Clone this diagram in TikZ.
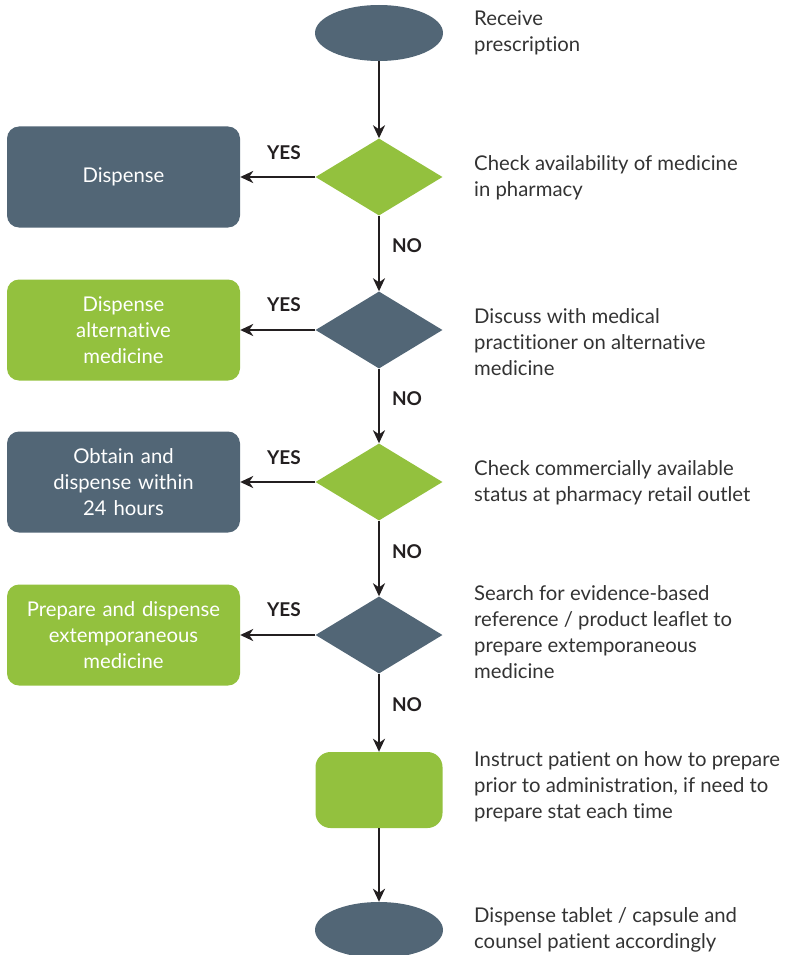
\documentclass[tikz,border=0pt]{standalone}
\usepackage{fontspec}
\setmainfont{Lato}[Ligatures=NoCommon]
\usetikzlibrary{shapes.geometric,arrows.meta}
\definecolor{slate}{HTML}{526676}
\definecolor{leaf}{HTML}{93C13E}
\definecolor{ink}{HTML}{333333}
\definecolor{arrowink}{HTML}{231F20}
\begin{document}
\begin{tikzpicture}[x=1pt,y=-1pt,
  every node/.style={font=\fontsize{20.3}{26}\selectfont},
  terminal/.style={ellipse, fill=slate, minimum width=128pt, minimum height=56pt, inner sep=0pt},
  decision/.style={diamond, minimum width=127pt, minimum height=77pt, inner sep=0pt},
  outcome/.style={rounded corners=12pt, minimum width=233pt, minimum height=101pt, inner sep=2pt,
    text=white, align=center, text width=225pt},
  note/.style={anchor=west, align=left, text=ink, inner sep=0pt},
  answer/.style={font=\fontsize{19}{20}\selectfont\bfseries, text=arrowink, inner sep=0pt},
  flow/.style={draw=arrowink, line width=2.2pt, -{Stealth[length=13pt,width=12pt,inset=4pt]}}
]
\useasboundingbox (0,0) rectangle (784,955);

% main column
\node[terminal] (start) at (379,33) {};
\node[decision, fill=leaf] (d1) at (379,177) {};
\node[decision, fill=slate] (d2) at (379,330) {};
\node[decision, fill=leaf] (d3) at (379,482) {};
\node[decision, fill=slate] (d4) at (379,635) {};
\node[rounded corners=15pt, fill=leaf, minimum width=127pt, minimum height=76pt, inner sep=0pt] (prep) at (379,790) {};
\node[terminal] (finish) at (379,930) {};

% outcomes on the left
\node[outcome, fill=slate] (b1) at (123.5,177) {Dispense};
\node[outcome, fill=leaf] (b2) at (123.5,330) {Dispense\\alternative\\medicine};
\node[outcome, fill=slate] (b3) at (123.5,482) {Obtain and\\dispense within\\24 hours};
\node[outcome, fill=leaf] (b4) at (123.5,635) {Prepare and dispense\\extemporaneous\\medicine};

% connectors
\draw[flow] (start) -- (d1);
\draw[flow] (d1) -- (d2);
\draw[flow] (d2) -- (d3);
\draw[flow] (d3) -- (d4);
\draw[flow] (d4) -- (prep);
\draw[flow] (prep) -- (finish);
\draw[flow] (d1.west) -- (b1.east);
\draw[flow] (d2.west) -- (b2.east);
\draw[flow] (d3.west) -- (b3.east);
\draw[flow] (d4.west) -- (b4.east);

% branch labels
\node[answer] (y1) at (284,153) {YES};
\node[answer] (y2) at (284,305) {YES};
\node[answer] (y3) at (284,458) {YES};
\node[answer] (y4) at (284,610) {YES};
\node[answer] (n1) at (407,246) {NO};
\node[answer] (n2) at (407,399) {NO};
\node[answer] (n3) at (407,552) {NO};
\node[answer] (n4) at (407,705) {NO};

% step descriptions
\node[note] (t1) at (474,33) {Receive\\prescription};
\node[note] (t2) at (474,177.5) {Check availability of medicine\\in pharmacy};
\node[note] (t3) at (474,342.5) {Discuss with medical\\practitioner on alternative\\medicine};
\node[note] (t4) at (474,482.5) {Check commercially available\\status at pharmacy retail outlet};
\node[note] (t5) at (474,632) {Search for evidence-based\\reference / product leaflet to\\prepare extemporaneous\\medicine};
\node[note] (t6) at (474,786.5) {Instruct patient on how to prepare\\prior to administration, if need to\\prepare stat each time};
\node[note] (t7) at (474,929.5) {Dispense tablet / capsule and\\counsel patient accordingly};
\end{tikzpicture}
\end{document}
